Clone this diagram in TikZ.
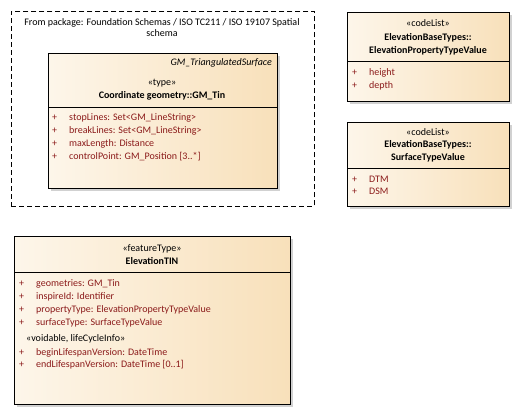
\documentclass[tikz,border=0pt]{standalone}
\usepackage{fontspec}
\setmainfont{Carlito}
\usetikzlibrary{shadows}
\definecolor{attr}{HTML}{8B1A1A}
\definecolor{fillL}{HTML}{FDF6EA}
\definecolor{fillR}{HTML}{F8E0BA}
\tikzset{
  umlbox/.style={draw=black, line width=0.9pt, left color=fillL, right color=fillR, shading angle=90,
    drop shadow={shadow xshift=2.5pt, shadow yshift=-2.5pt, fill=black!18, opacity=1},
    anchor=north west, inner sep=0pt},
  frame/.style={draw=black, line width=0.9pt, dash pattern=on 5pt off 3pt},
  txt/.style={inner sep=0pt, font=\fontsize{10}{12}\selectfont, anchor=base},
  hdr/.style={txt},
  bold/.style={txt, font=\fontsize{10}{12}\selectfont\bfseries},
  plus/.style={txt, text=attr, anchor=base west},
  attrtxt/.style={txt, text=attr, anchor=base west},
  divider/.style={draw=black, line width=0.9pt}
}
\begin{document}
\begin{tikzpicture}[x=1pt, y=-1pt]
\useasboundingbox (0,0) rectangle (519,415);
% package frame
\node[frame, anchor=north west, minimum width=303pt, minimum height=195pt, inner sep=0pt] (pkg) at (11,11) {};
\node[txt] (pkgt1) at (162,25) {From package: Foundation Schemas / ISO TC211 / ISO 19107 Spatial};
\node[txt] (pkgt2) at (162,36) {schema};
% GM_Tin
\node[umlbox, minimum width=229pt, minimum height=135pt] (tin) at (48,53) {};
\draw[divider] (48,107) coordinate (tinA) -- (277,107) coordinate (tinB);
\node[txt, font=\fontsize{10}{12}\selectfont\itshape, anchor=base east] (tinpar) at (272,65) {GM\_TriangulatedSurface};
\node[hdr] (tinst) at (162,85) {«type»};
\node[bold] (tinname) at (162,98) {Coordinate geometry::GM\_Tin};
\node[plus] (tp1) at (52,120) {+};
\node[attrtxt] (ta1) at (69,120) {stopLines: Set<GM\_LineString>};
\node[plus] (tp2) at (52,133) {+};
\node[attrtxt] (ta2) at (69,133) {breakLines: Set<GM\_LineString>};
\node[plus] (tp3) at (52,146) {+};
\node[attrtxt] (ta3) at (69,146) {maxLength: Distance};
\node[plus] (tp4) at (52,159) {+};
\node[attrtxt] (ta4) at (69,159) {controlPoint: GM\_Position [3..*]};
% codeList 1
\node[umlbox, minimum width=162pt, minimum height=89pt] (cl1) at (347,12) {};
\draw[divider] (347,61) coordinate (c1A) -- (509,61) coordinate (c1B);
\node[hdr] (c1st) at (428,27) {«codeList»};
\node[bold] (c1n1) at (428,40) {ElevationBaseTypes::};
\node[bold] (c1n2) at (428,53) {ElevationPropertyTypeValue};
\node[plus] (c1p1) at (352,75) {+};
\node[attrtxt] (c1a1) at (369,75) {height};
\node[plus] (c1p2) at (352,88) {+};
\node[attrtxt] (c1a2) at (369,88) {depth};
% codeList 2
\node[umlbox, minimum width=162pt, minimum height=84pt] (cl2) at (347,122) {};
\draw[divider] (347,168) coordinate (c2A) -- (509,168) coordinate (c2B);
\node[hdr] (c2st) at (428,135) {«codeList»};
\node[bold] (c2n1) at (428,147) {ElevationBaseTypes::};
\node[bold] (c2n2) at (428,160) {SurfaceTypeValue};
\node[plus] (c2p1) at (352,182) {+};
\node[attrtxt] (c2a1) at (369,182) {DTM};
\node[plus] (c2p2) at (352,194) {+};
\node[attrtxt] (c2a2) at (369,194) {DSM};
% ElevationTIN
\node[umlbox, minimum width=276pt, minimum height=168pt] (etin) at (14,236) {};
\draw[divider] (14,272) coordinate (eA) -- (290,272) coordinate (eB);
\node[hdr] (est) at (152,251) {«featureType»};
\node[bold] (ename) at (152,264) {ElevationTIN};
\node[plus] (ep1) at (19,286) {+};
\node[attrtxt] (ea1) at (36,286) {geometries: GM\_Tin};
\node[plus] (ep2) at (19,299) {+};
\node[attrtxt] (ea2) at (36,299) {inspireId: Identifier};
\node[plus] (ep3) at (19,312) {+};
\node[attrtxt] (ea3) at (36,312) {propertyType: ElevationPropertyTypeValue};
\node[plus] (ep4) at (19,325) {+};
\node[attrtxt] (ea4) at (36,325) {surfaceType: SurfaceTypeValue};
\node[txt, anchor=base west] (evoid) at (26,341) {«voidable, lifeCycleInfo»};
\node[plus] (ep5) at (19,355) {+};
\node[attrtxt] (ea5) at (36,355) {beginLifespanVersion: DateTime};
\node[plus] (ep6) at (19,367) {+};
\node[attrtxt] (ea6) at (36,367) {endLifespanVersion: DateTime [0..1]};
\end{tikzpicture}
\end{document}
